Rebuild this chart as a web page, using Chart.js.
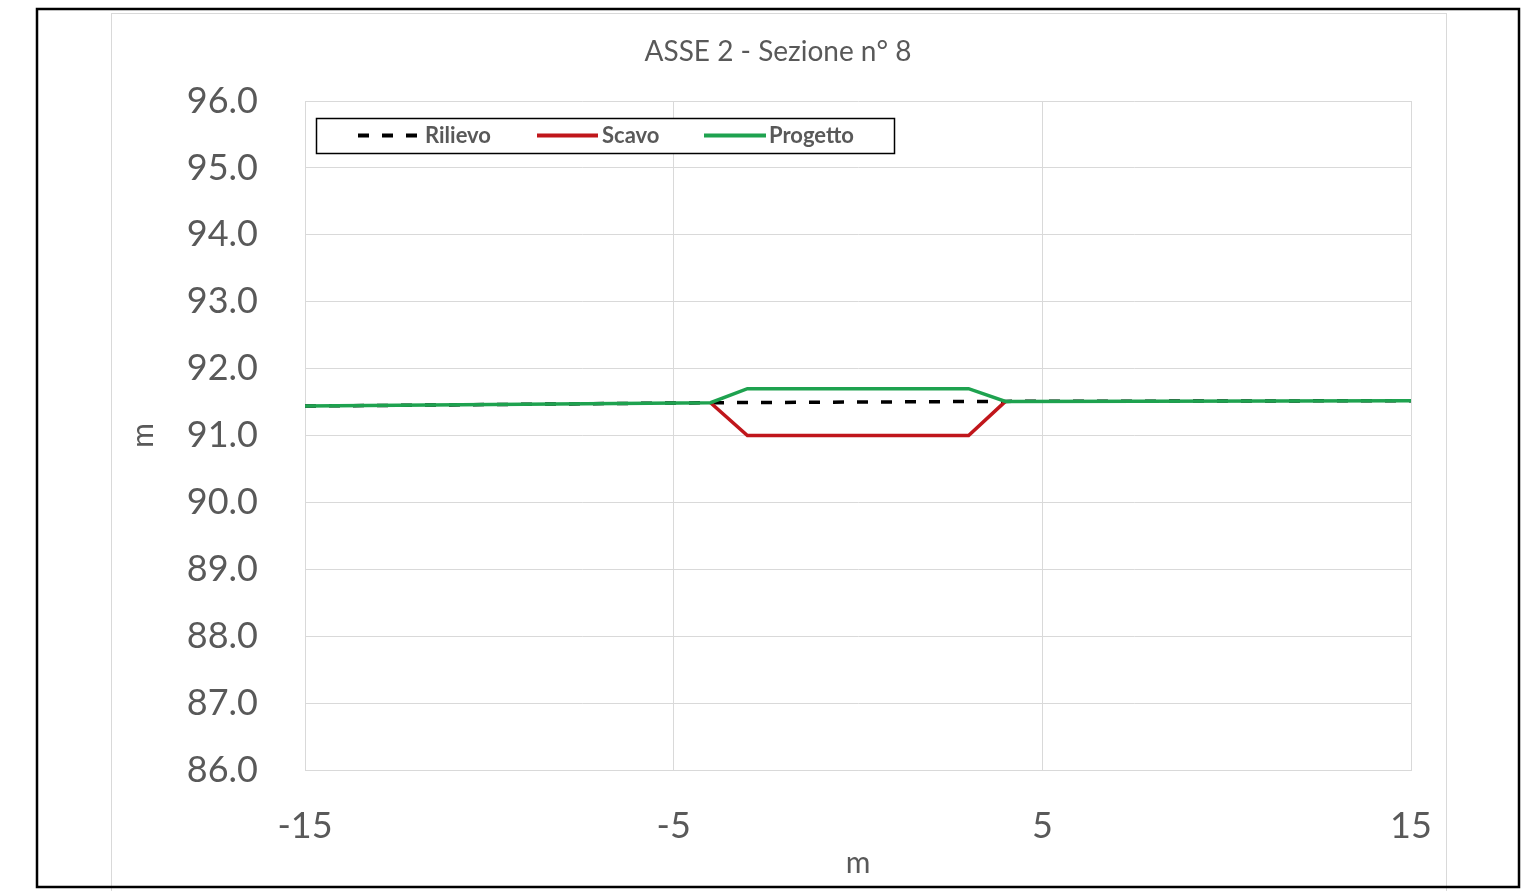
<!DOCTYPE html>
<html>
<head>
<meta charset="utf-8">
<script src="https://cdn.jsdelivr.net/npm/chart.js@4.4.1/dist/chart.umd.min.js"></script>
<style>
  html, body { margin: 0; padding: 0; background: #fff; }
  #wrap { width: 1530px; height: 891px; }
</style>
</head>
<body>
<div id="wrap"><canvas id="myChart" width="1530" height="891"></canvas></div>
<script>
// section data (distance m, elevation m)
var rilievoX = [-15, -4, 4, 15];
var rilievoY = [91.44, 91.49, 91.51, 91.52];
var scavoX = [-4, -3, 3, 4];
var scavoY = [91.49, 91.0, 91.0, 91.51];
var progettoX = [-15, -4, -3, 3, 4, 15];
var progettoY = [91.44, 91.49, 91.70, 91.70, 91.51, 91.52];

var titleText = "ASSE 2 - Sezione n\u00b0 8";
var legendNames = ["Rilievo", "Scavo", "Progetto"];

function pts(xs, ys) {
    var out = [];
    for (var i = 0; i < xs.length; i++) out.push({x: xs[i], y: ys[i]});
    return out;
}

var grey = "#595959";

// frame, title and boxed legend like the Excel original
var framePlugin = {
    id: "frame",
    beforeDraw: function(chart) {
        var c = chart.ctx;
        c.save();
        c.fillStyle = "#fff";
        c.fillRect(0, 0, chart.width, chart.height);
        c.strokeStyle = "#d9d9d9";
        c.lineWidth = 1;
        c.strokeRect(111.5, 13.5, 1335, 890);
        c.strokeStyle = "#000";
        c.lineWidth = 2.5;
        c.strokeRect(37, 9, 1482, 878);
        c.restore();
    },
    afterDraw: function(chart) {
        var c = chart.ctx;
        c.save();
        c.fillStyle = grey;
        c.font = "28px Lato";
        c.textAlign = "center";
        c.textBaseline = "middle";
        c.fillText(titleText, 778, 52);

        // legend box
        c.fillStyle = "#fff";
        c.fillRect(316, 118, 578, 35);
        c.strokeStyle = "#000";
        c.lineWidth = 1.5;
        c.strokeRect(316.5, 118.5, 578, 35);
        var items = [
            {ds: chart.data.datasets[2], x0: 358, x1: 421, tx: 425},
            {ds: chart.data.datasets[1], x0: 537, x1: 598, tx: 602},
            {ds: chart.data.datasets[0], x0: 704, x1: 766, tx: 769}
        ];
        c.font = "bold 22px Lato";
        c.textAlign = "left";
        items.forEach(function(it, i) {
            c.beginPath();
            c.strokeStyle = it.ds.borderColor;
            c.lineWidth = 4;
            c.setLineDash(it.ds.borderDash || []);
            c.moveTo(it.x0, 135.5);
            c.lineTo(it.x1, 135.5);
            c.stroke();
            c.setLineDash([]);
            c.fillStyle = grey;
            c.fillText(legendNames[i], it.tx, 136);
        });
        c.restore();
    }
};

var ctx = document.getElementById("myChart");
var myChart = new Chart(ctx, {
    type: "line",
    data: {
        datasets: [
        {
            label: legendNames[2],
            data: pts(progettoX, progettoY),
            borderColor: "#1ea24f",
            borderWidth: 3.5,
            pointRadius: 0,
            tension: 0,
            fill: false
        },
        {
            label: legendNames[1],
            data: pts(scavoX, scavoY),
            borderColor: "#c0161b",
            borderWidth: 3.5,
            pointRadius: 0,
            tension: 0,
            fill: false
        },
        {
            label: legendNames[0],
            data: pts(rilievoX, rilievoY),
            borderColor: "#000",
            borderWidth: 3.5,
            borderDash: [11, 13],
            pointRadius: 0,
            tension: 0,
            fill: false
        }
        ]
    },
    options: {
        responsive: false,
        animation: false,
        layout: { padding: { top: 101, right: 119, left: 0, bottom: 0 } },
        plugins: {
            legend: { display: false },
            title: { display: false },
            tooltip: { enabled: false }
        },
        scales: {
            x: {
                type: "linear",
                min: -15,
                max: 15,
                ticks: {
                    stepSize: 10,
                    color: grey,
                    font: { family: "Lato", size: 36 },
                    padding: 35
                },
                grid: { color: "#d9d9d9", drawTicks: false },
                border: { color: "#d9d9d9" },
                title: {
                    display: true,
                    text: "m",
                    color: grey,
                    font: { family: "Lato", size: 30 },
                    padding: { top: 0, bottom: 10 }
                },
                afterFit: function(s) { s.height = 121; }
            },
            y: {
                min: 86,
                max: 96,
                ticks: {
                    stepSize: 1,
                    color: grey,
                    font: { family: "Lato", size: 36 },
                    padding: 47,
                    callback: function(v) { return v.toFixed(1); }
                },
                grid: { color: "#d9d9d9", drawTicks: false },
                border: { color: "#d9d9d9" },
                title: {
                    display: true,
                    text: "m",
                    color: grey,
                    font: { family: "Lato", size: 30 },
                    padding: { top: 125, bottom: 0 }
                },
                afterFit: function(s) { s.width = 305; }
            }
        }
    },
    plugins: [framePlugin]
});
</script>
</body>
</html>
